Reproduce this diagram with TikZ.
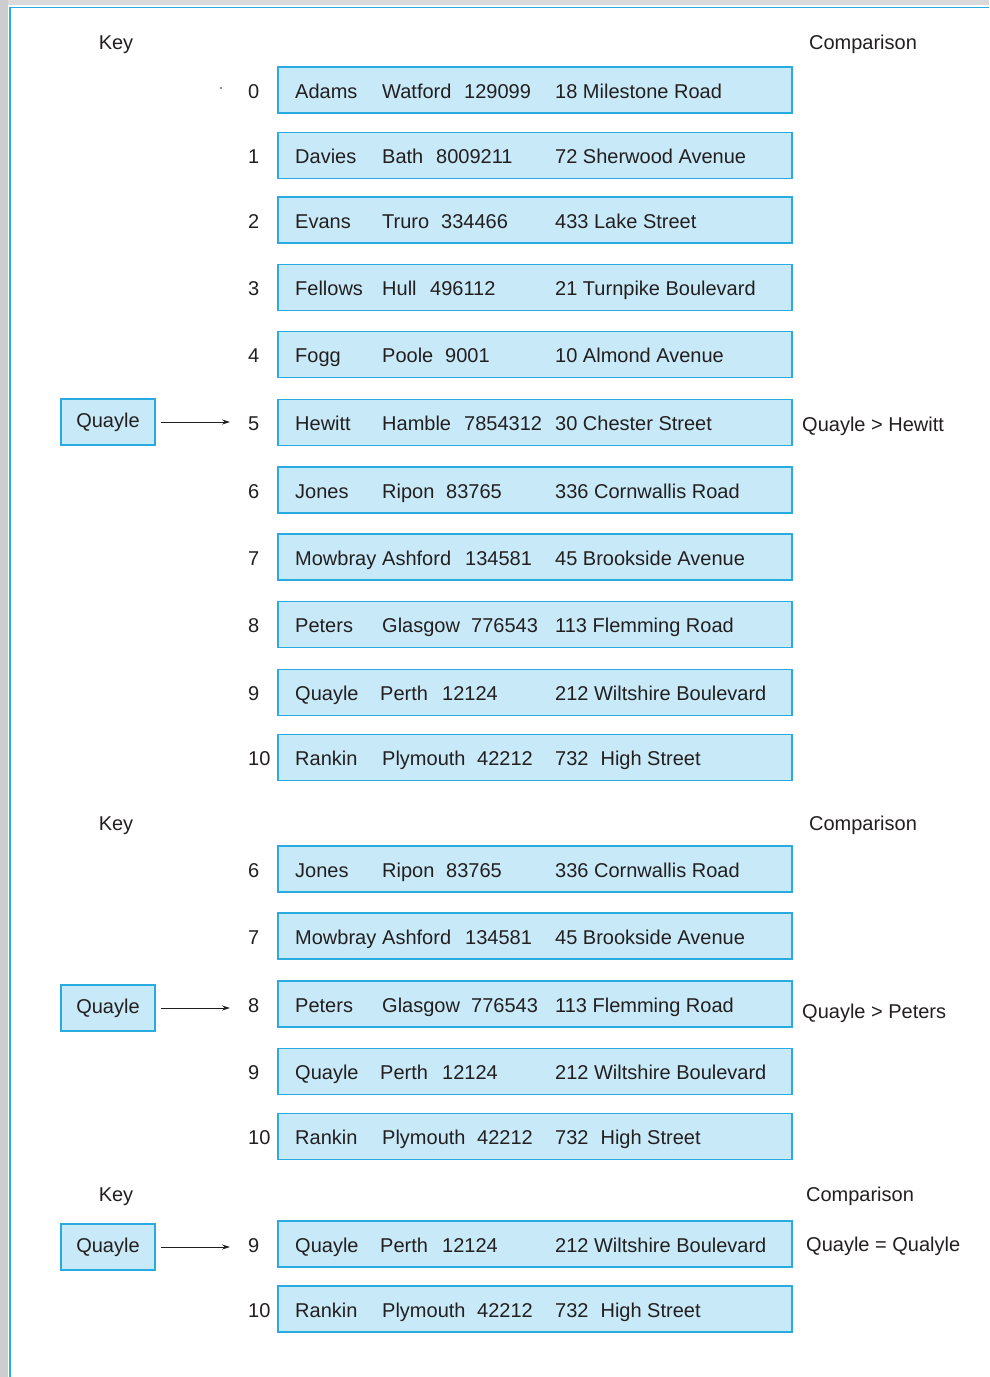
\documentclass[tikz,border=0pt]{standalone}
\usepackage{fontspec}
\setmainfont{Liberation Sans}
\usetikzlibrary{arrows.meta}
\definecolor{rimblue}{RGB}{41,171,226}
\definecolor{cellfill}{RGB}{200,234,248}
\definecolor{ink}{RGB}{35,31,32}
\definecolor{edgegrey}{RGB}{205,205,205}

% one record row: #1 name, #2 y centre, #3 index, #4 surname, #5 town x,
% #6 town, #7 number x, #8 number, #9 address
\newcommand\recrow[9]{%
  \node[recbox] (#1) at (535,#2) {};
  \node[idx] (#1-i) at (248,#2+8) {#3};
  \node[lbl] (#1-a) at (295,#2+8) {#4};
  \node[lbl] (#1-b) at (#5,#2+8) {#6};
  \node[lbl] (#1-c) at (#7,#2+8) {#8};
  \node[lbl] (#1-d) at (555,#2+8) {#9};
}

\begin{document}
\begin{tikzpicture}[x=1pt,y=-1pt,
  font=\fontsize{20}{24}\selectfont, text=ink,
  recbox/.style={draw=rimblue, fill=cellfill, line width=1.6pt,
    minimum width=514pt, minimum height=46pt, inner sep=0pt},
  keybox/.style={draw=rimblue, fill=cellfill, line width=1.6pt,
    minimum width=94pt, minimum height=46pt, inner sep=0pt},
  lbl/.style={anchor=base west, inner sep=0pt},
  idx/.style={anchor=base west, inner sep=0pt},
  head/.style={anchor=base, inner sep=0pt},
  ptr/.style={-{Stealth[length=8pt,width=5pt]}, line width=0.9pt, draw=ink,
    shorten <=5pt, shorten >=18pt}]

% page edge and frame
\useasboundingbox (0,0) rectangle (989,1377);
\fill[white] (0,0) rectangle (989,1377);
\fill[edgegrey] (0,0) rectangle (8,1377);
\fill[edgegrey!75] (8,0) rectangle (989,5);
\draw[rimblue, line width=1.5pt] (989,7.5) -- (10,7.5) -- (10,1377);

% ---- first pass ----
\node[head] (k1) at (116,49) {Key};
\node[head] (c1) at (863,49) {Comparison};
\fill[ink] (221,88) circle (0.8);
\recrow{a0}{90}{0}{Adams}{382}{Watford}{464}{129099}{18 Milestone Road}
\recrow{a1}{155.5}{1}{Davies}{382}{Bath}{436}{8009211}{72 Sherwood Avenue}
\recrow{a2}{220}{2}{Evans}{382}{Truro}{441}{334466}{433 Lake Street}
\recrow{a3}{287.5}{3}{Fellows}{382}{Hull}{430}{496112}{21 Turnpike Boulevard}
\recrow{a4}{354.5}{4}{Fogg}{382}{Poole}{445}{9001}{10 Almond Avenue}
\recrow{a5}{422.5}{5}{Hewitt}{382}{Hamble}{464}{7854312}{30 Chester Street}
\recrow{a6}{490}{6}{Jones}{382}{Ripon}{446}{83765}{336 Cornwallis Road}
\recrow{a7}{557}{7}{Mowbray}{382}{Ashford}{465}{134581}{45 Brookside Avenue}
\recrow{a8}{624.5}{8}{Peters}{382}{Glasgow}{471}{776543}{113 Flemming Road}
\recrow{a9}{692.5}{9}{Quayle}{380}{Perth}{442}{12124}{212 Wiltshire Boulevard}
\recrow{a10}{757.5}{10}{Rankin}{382}{Plymouth}{477}{42212}{732\hspace{12pt}High Street}
\node[keybox] (q1) at (108,422) {Quayle};
\draw[ptr] (q1.east) -- (q1.east -| a5-i.west);
\node[lbl] (cmp1) at (802,431) {Quayle > Hewitt};

% ---- second pass ----
\node[head] (k2) at (116,830) {Key};
\node[head] (c2) at (863,830) {Comparison};
\recrow{b6}{869}{6}{Jones}{382}{Ripon}{446}{83765}{336 Cornwallis Road}
\recrow{b7}{936}{7}{Mowbray}{382}{Ashford}{465}{134581}{45 Brookside Avenue}
\recrow{b8}{1004}{8}{Peters}{382}{Glasgow}{471}{776543}{113 Flemming Road}
\recrow{b9}{1071.5}{9}{Quayle}{380}{Perth}{442}{12124}{212 Wiltshire Boulevard}
\recrow{b10}{1136.5}{10}{Rankin}{382}{Plymouth}{477}{42212}{732\hspace{12pt}High Street}
\node[keybox] (q2) at (108,1008) {Quayle};
\draw[ptr] (q2.east) -- (q2.east -| b8-i.west);
\node[lbl] (cmp2) at (802,1018) {Quayle > Peters};

% ---- third pass ----
\node[head] (k3) at (116,1201) {Key};
\node[head] (c3) at (860,1201) {Comparison};
\recrow{c9}{1244}{9}{Quayle}{380}{Perth}{442}{12124}{212 Wiltshire Boulevard}
\recrow{c10}{1309}{10}{Rankin}{382}{Plymouth}{477}{42212}{732\hspace{12pt}High Street}
\node[keybox] (q3) at (108,1247) {Quayle};
\draw[ptr] (q3.east) -- (q3.east -| c9-i.west);
\node[lbl] (cmp3) at (806,1251) {Quayle = Qualyle};
\end{tikzpicture}
\end{document}
